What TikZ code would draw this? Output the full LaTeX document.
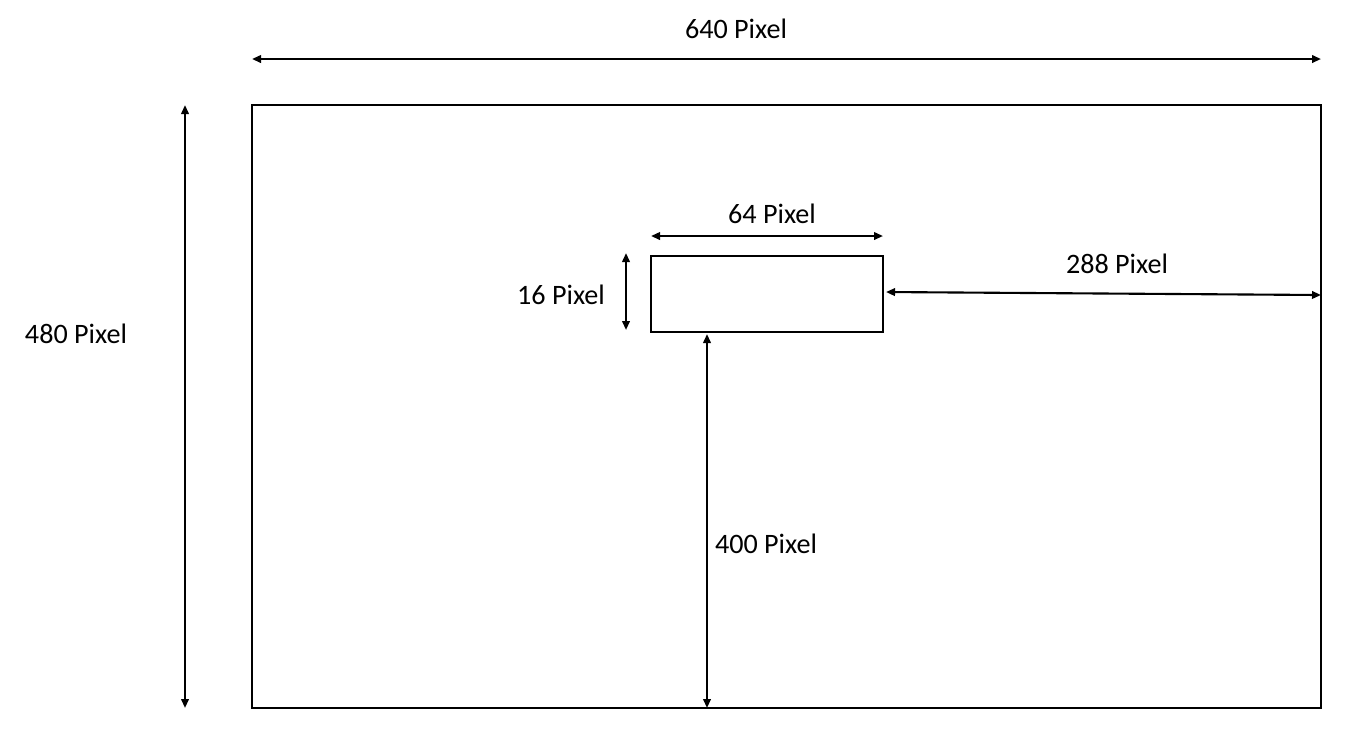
\documentclass[tikz,border=0pt]{standalone}
\usepackage{fontspec}
\setmainfont{Carlito}
\usetikzlibrary{arrows.meta, positioning}

\tikzset{
  frame/.style={draw, line width=0.6pt, inner sep=0pt, outer sep=0pt},
  dim/.style={line width=0.6pt, {Triangle[length=0.09cm,width=0.075cm]}-{Triangle[length=0.09cm,width=0.075cm]}},
  lbl/.style={font=\fontsize{8}{10}\selectfont, inner sep=0pt}
}

\begin{document}
\begin{tikzpicture}[x=0.01cm,y=-0.01cm]
\useasboundingbox (0,0) rectangle (1361,732);
% screen and sprite
\node[frame, minimum width=10.69cm, minimum height=6.03cm] (screen) at (786.5,406.5) {};
\node[frame, minimum width=2.32cm, minimum height=0.76cm] (sprite) at (767,294) {};
% end points of the dimension lines
\coordinate (wl) at (252,59);
\coordinate (wr) at (1321,59);
\coordinate (ht) at (185,105);
\coordinate (hb) at (185,708);
\coordinate (sl) at (651,236);
\coordinate (sr) at (883,236);
\coordinate (st) at (626,253);
\coordinate (sb) at (626,330);
\coordinate (rl) at (886,292);
\coordinate (rr) at (1321,295);
\coordinate (bt) at (707,334);
\coordinate (bb) at (707,708);
% dimension lines
\draw[dim] (wl) -- (wr);
\draw[dim] (ht) -- (hb);
\draw[dim] (sl) -- (sr);
\draw[dim] (st) -- (sb);
\draw[dim] (rl) -- (rr);
\draw[dim] (bt) -- (bb);
% labels
\node[lbl] (wlabel) at (736,29) {640 Pixel};
\node[lbl] (hlabel) at (76,334) {480 Pixel};
\node[lbl] (slabel) at (772,214) {64 Pixel};
\node[lbl] (tlabel) at (561,295) {16 Pixel};
\node[lbl] (rlabel) at (1117,264) {288 Pixel};
\node[lbl] (blabel) at (766,544) {400 Pixel};
\end{tikzpicture}
\end{document}
